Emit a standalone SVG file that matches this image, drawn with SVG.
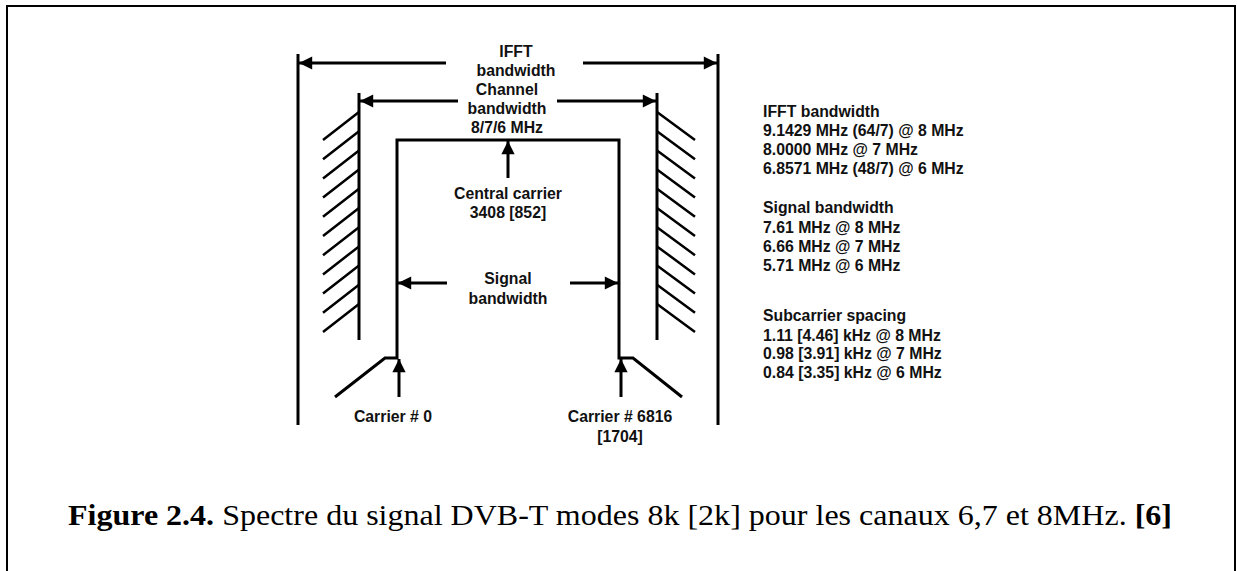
<svg xmlns="http://www.w3.org/2000/svg" width="1237" height="571" viewBox="0 0 1237 571">
<style>
.ln{stroke:#000;stroke-width:3;fill:none}
.ht{stroke:#000;stroke-width:2.5;fill:none}
.lb{font-family:"Liberation Sans",Arial,sans-serif;font-weight:bold;font-size:15.8px;fill:#111}
.c{text-anchor:middle}
.cap{font-family:"Liberation Serif","Times New Roman",serif;font-size:29px;fill:#000}
</style>
<defs>
<marker id="ah" viewBox="0 0 10 10" refX="10" refY="5" markerWidth="5" markerHeight="4.4" orient="auto" markerUnits="strokeWidth">
<path d="M0,0 L10,5 L0,10 z" fill="#000"/>
</marker>
</defs>
<rect width="1237" height="571" fill="#fff"/>
<path d="M7,571 V6 H1235 V571" fill="none" stroke="#000" stroke-width="2"/>
<g id="structure">
<line class="ln" x1="298" y1="54" x2="298" y2="425"/>
<line class="ln" x1="718" y1="54" x2="718" y2="425"/>
<line class="ln" x1="359" y1="93" x2="359" y2="340"/>
<line class="ln" x1="657" y1="93" x2="657" y2="340"/>
<g id="hatch-left" class="ht">
<path d="M359,112 l-36,28 M359,131.2 l-36,28 M359,150.4 l-36,28 M359,169.6 l-36,28 M359,188.8 l-36,28 M359,208 l-36,28 M359,227.2 l-36,28 M359,246.4 l-36,28 M359,265.6 l-36,28 M359,284.8 l-36,28 M359,304 l-36,28"/>
</g>
<g id="hatch-right" class="ht">
<path d="M657,112 l38,28 M657,131.2 l38,28 M657,150.4 l38,28 M657,169.6 l38,28 M657,188.8 l38,28 M657,208 l38,28 M657,227.2 l38,28 M657,246.4 l38,28 M657,265.6 l38,28 M657,284.8 l38,28 M657,304 l38,28"/>
</g>
<path id="spectrum" class="ln" d="M335,397 L385,358 H397 V140 H619 V358 H633 L682,397"/>
</g>
<g id="connectors">
<line class="ln" x1="446" y1="63" x2="299" y2="63" marker-end="url(#ah)"/>
<line class="ln" x1="583" y1="63" x2="717" y2="63" marker-end="url(#ah)"/>
<line class="ln" x1="458" y1="101" x2="360" y2="101" marker-end="url(#ah)"/>
<line class="ln" x1="557" y1="101" x2="656" y2="101" marker-end="url(#ah)"/>
<line class="ln" x1="447" y1="283" x2="398" y2="283" marker-end="url(#ah)"/>
<line class="ln" x1="570" y1="283" x2="618" y2="283" marker-end="url(#ah)"/>
<line class="ln" x1="508" y1="178" x2="508" y2="141" marker-end="url(#ah)"/>
<line class="ln" x1="399" y1="397" x2="399" y2="359" marker-end="url(#ah)"/>
<line class="ln" x1="621" y1="397" x2="621" y2="359" marker-end="url(#ah)"/>
</g>
<g id="label-ifft">
<text class="lb c" x="516" y="57">IFFT</text>
<text class="lb c" x="516" y="76">bandwidth</text>
</g>
<g id="label-channel">
<text class="lb c" x="507" y="95">Channel</text>
<text class="lb c" x="507" y="114">bandwidth</text>
<text class="lb c" x="507" y="133">8/7/6 MHz</text>
</g>
<g id="label-central">
<text class="lb c" x="508" y="199">Central carrier</text>
<text class="lb c" x="508" y="218">3408 [852]</text>
</g>
<g id="label-signal">
<text class="lb c" x="508" y="284">Signal</text>
<text class="lb c" x="508" y="304">bandwidth</text>
</g>
<g id="label-carrier0">
<text class="lb c" x="393" y="422">Carrier # 0</text>
</g>
<g id="label-carrier6816">
<text class="lb c" x="620" y="422">Carrier # 6816</text>
<text class="lb c" x="620" y="442">[1704]</text>
</g>
<g id="legend">
<text class="lb" x="763" y="117">IFFT bandwidth</text>
<text class="lb" x="763" y="136">9.1429 MHz (64/7) @ 8 MHz</text>
<text class="lb" x="763" y="155">8.0000 MHz @ 7 MHz</text>
<text class="lb" x="763" y="174">6.8571 MHz (48/7) @ 6 MHz</text>
<text class="lb" x="763" y="213">Signal bandwidth</text>
<text class="lb" x="763" y="233">7.61 MHz @ 8 MHz</text>
<text class="lb" x="763" y="252">6.66 MHz @ 7 MHz</text>
<text class="lb" x="763" y="271">5.71 MHz @ 6 MHz</text>
<text class="lb" x="763" y="321">Subcarrier spacing</text>
<text class="lb" x="763" y="341">1.11 [4.46] kHz @ 8 MHz</text>
<text class="lb" x="763" y="359">0.98 [3.91] kHz @ 7 MHz</text>
<text class="lb" x="763" y="378">0.84 [3.35] kHz @ 6 MHz</text>
</g>
<g id="caption">
<text class="cap" x="68" y="525" textLength="1104" lengthAdjust="spacingAndGlyphs"><tspan font-weight="bold">Figure 2.4.</tspan> Spectre du signal DVB-T modes 8k [2k] pour les canaux 6,7 et 8MHz. <tspan font-weight="bold">[6]</tspan></text>
</g>
</svg>
